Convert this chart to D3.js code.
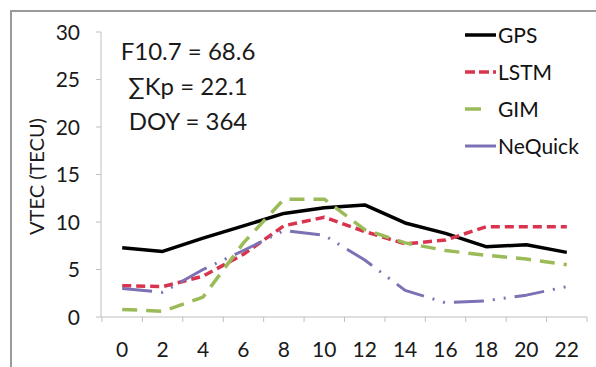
<!DOCTYPE html>
<html>
<head>
<meta charset="utf-8">
<script src="https://cdn.jsdelivr.net/npm/d3@7"></script>
<style>
  html, body { margin: 0; padding: 0; background: #fff; }
  svg { display: block; font-family: Lato, "Open Sans", sans-serif; }
</style>
</head>
<body>
<svg id="chart" width="596" height="367"></svg>
<script>
// Stunden (UT) und VTEC-Werte je Modell
const hours = [0, 2, 4, 6, 8, 10, 12, 14, 16, 18, 20, 22];
const gps     = [7.3, 6.9, 8.3, 9.6, 10.9, 11.5, 11.8, 9.9, 8.8, 7.4, 7.6, 6.8];
const lstm    = [3.3, 3.2, 4.3, 6.6, 9.6, 10.5, 9.0, 7.7, 8.1, 9.5, 9.5, 9.5];
const gim     = [0.8, 0.6, 2.1, 7.8, 12.4, 12.4, 9.2, 7.8, 7.0, 6.5, 6.1, 5.5];
const nequick = [3.0, 2.6, 5.0, 7.0, 9.1, 8.6, 6.0, 2.8, 1.5, 1.7, 2.3, 3.2];
const yTicks = [0, 5, 10, 15, 20, 25, 30];
const notes = ['F10.7 = 68.6', '\u2211Kp = 22.1', 'DOY = 364'];

const series = [
  { name: 'GPS', values: gps, color: '#000000', dash: null, width: 3.5, legendDash: null },
  { name: 'LSTM', values: lstm, color: '#d8344e', dash: '9,5', width: 3.5, legendDash: '10,4' },
  { name: 'GIM', values: gim, color: '#9bbb59', dash: '15,9', width: 3.5, legendDash: '16,30' },
  { name: 'NeQuick', values: nequick, color: '#7d70b4', dash: '30,9,2,9,2,9', width: 3, legendDash: null }
];

const svg = d3.select('#chart');

// Rahmen (nur links und oben sichtbar)
svg.append('rect')
  .attr('x', 11).attr('y', 11)
  .attr('width', 640).attr('height', 400)
  .attr('fill', 'none')
  .attr('stroke', '#9a9a9a')
  .attr('stroke-width', 2);

const x = d3.scalePoint().domain(hours).range([102, 587]).padding(0.5);
const y = d3.scaleLinear().domain([0, 30]).range([317, 32]);
const step = x.step();

// Achsenlinien
svg.append('line')
  .attr('x1', 101).attr('x2', 101)
  .attr('y1', y(30)).attr('y2', y(0))
  .attr('stroke', '#bfbfbf').attr('stroke-width', 1);
svg.append('line')
  .attr('x1', 101).attr('x2', 587)
  .attr('y1', y(0)).attr('y2', y(0))
  .attr('stroke', '#bfbfbf').attr('stroke-width', 1);

// Y-Ticks
svg.selectAll('line.ytick')
  .data(yTicks).enter().append('line')
  .attr('class', 'ytick')
  .attr('x1', 96).attr('x2', 101)
  .attr('y1', d => y(d)).attr('y2', d => y(d))
  .attr('stroke', '#bfbfbf');
svg.selectAll('text.ylab')
  .data(yTicks).enter().append('text')
  .attr('class', 'ylab')
  .attr('x', 80).attr('y', d => y(d))
  .attr('dy', '0.36em')
  .attr('text-anchor', 'end')
  .attr('font-size', 21)
  .attr('fill', '#1a1a1a')
  .text(d => d);

// X-Ticks zwischen den Kategorien
svg.selectAll('line.xtick')
  .data(hours.concat(['end'])).enter().append('line')
  .attr('class', 'xtick')
  .attr('x1', (d, i) => x(hours[0]) - step / 2 + i * step)
  .attr('x2', (d, i) => x(hours[0]) - step / 2 + i * step)
  .attr('y1', y(0)).attr('y2', y(0) + 5)
  .attr('stroke', '#bfbfbf');
svg.selectAll('text.xlab')
  .data(hours).enter().append('text')
  .attr('class', 'xlab')
  .attr('x', d => x(d)).attr('y', 357)
  .attr('text-anchor', 'middle')
  .attr('font-size', 21)
  .attr('fill', '#1a1a1a')
  .text(d => d);

// Achsentitel
svg.append('text')
  .attr('transform', `translate(44,${(y(0) + y(30)) / 2 + 2}) rotate(-90)`)
  .attr('text-anchor', 'middle')
  .attr('font-size', 20)
  .attr('fill', '#1a1a1a')
  .text('VTEC (TECU)');

// Linien
const line = d3.line()
  .x((d, i) => x(hours[i]))
  .y(d => y(d));

svg.selectAll('path.series')
  .data(series).enter().append('path')
  .attr('class', 'series')
  .attr('d', d => line(d.values))
  .attr('fill', 'none')
  .attr('stroke', d => d.color)
  .attr('stroke-width', d => d.width)
  .attr('stroke-dasharray', d => d.dash)
  .attr('stroke-linejoin', 'round');

// Parameter-Text
svg.selectAll('text.note')
  .data(notes).enter().append('text')
  .attr('class', 'note')
  .attr('x', 188).attr('y', (d, i) => 60 + i * 35)
  .attr('text-anchor', 'middle')
  .attr('font-size', 24)
  .attr('fill', '#1a1a1a')
  .text(d => d);

// Legende
const legend = svg.selectAll('g.legend')
  .data(series).enter().append('g')
  .attr('class', 'legend')
  .attr('transform', (d, i) => `translate(465,${35 + i * 37})`);
legend.append('line')
  .attr('x1', 0).attr('x2', 31)
  .attr('y1', 0).attr('y2', 0)
  .attr('stroke', d => d.color)
  .attr('stroke-width', d => d.width)
  .attr('stroke-dasharray', d => d.legendDash);
legend.append('text')
  .attr('x', 33).attr('y', 0)
  .attr('dy', '0.36em')
  .attr('font-size', 21)
  .attr('fill', '#111')
  .text(d => d.name);
</script>
</body>
</html>
